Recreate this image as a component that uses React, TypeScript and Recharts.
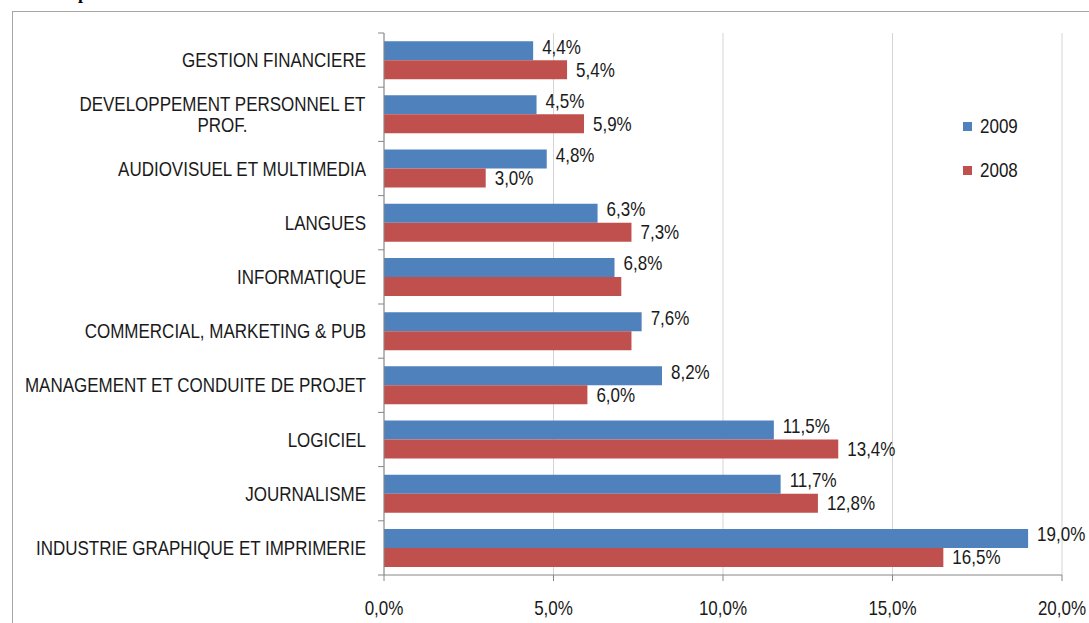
import React from "react";
import { BarChart, Bar, XAxis, YAxis, CartesianGrid, Legend, LabelList } from "recharts";

const categories = [
  "GESTION FINANCIERE",
  "DEVELOPPEMENT PERSONNEL ET\nPROF.",
  "AUDIOVISUEL ET MULTIMEDIA",
  "LANGUES",
  "INFORMATIQUE",
  "COMMERCIAL, MARKETING & PUB",
  "MANAGEMENT ET CONDUITE DE PROJET",
  "LOGICIEL",
  "JOURNALISME",
  "INDUSTRIE GRAPHIQUE ET IMPRIMERIE",
];
const values2009 = [4.4, 4.5, 4.8, 6.3, 6.8, 7.6, 8.2, 11.5, 11.7, 19.0];
const values2008 = [5.4, 5.9, 3.0, 7.3, 7.0, 7.3, 6.0, 13.4, 12.8, 16.5];
// these two 2008 bars have no value label in the original
const unlabeled2008 = ["INFORMATIQUE", "COMMERCIAL, MARKETING & PUB"];
const xTicks = [0, 5, 10, 15, 20];
const seriesNames = ["2009", "2008"];

const COLORS = ["#4f81bd", "#c0504d"];
// no narrow font installed, so squeeze Liberation Sans horizontally
const FONT = "'Liberation Sans', Arial, sans-serif";
const FONT_SIZE = 20;
const SQUEEZE = 0.85;

const W = 1089;
const H = 623;
const MARGIN = { top: 33, right: 27, left: 0, bottom: 8 };
const X_AXIS_H = 40;
const BAND = (H - MARGIN.top - MARGIN.bottom - X_AXIS_H) / categories.length;

const data = categories.map((name, i) => ({
  name,
  v2009: values2009[i],
  v2008: values2008[i],
}));

const pct = (v: number) => v.toFixed(1).replace(".", ",") + "%";

let ctx: CanvasRenderingContext2D | null = null;
const measure = (s: string) => {
  if (!ctx) ctx = document.createElement("canvas").getContext("2d");
  if (!ctx) return s.length * 9;
  ctx.font = `${FONT_SIZE}px ${FONT}`;
  return ctx.measureText(s).width * SQUEEZE;
};

const Narrow = ({ x, y, anchor = "start", children }: any) => (
  <text
    transform={`translate(${x},${y}) scale(${SQUEEZE},1)`}
    dy="0.35em"
    textAnchor={anchor}
    fontSize={FONT_SIZE}
    fontFamily={FONT}
    fill="#1a1a1a"
  >
    {children}
  </text>
);

const CategoryTick = (props: any) => {
  const { x, y, payload, index } = props;
  const lines: string[] = String(payload.value).split("\n");
  const right = x - 18;
  let texts;
  if (lines.length === 1) {
    texts = <Narrow x={right} y={y} anchor="end">{lines[0]}</Narrow>;
  } else {
    const widest = Math.max(...lines.map(measure));
    const cx = right - widest / 2;
    texts = lines.map((l, i) => (
      <Narrow key={i} x={cx} y={y + (i - (lines.length - 1) / 2) * 21} anchor="middle">{l}</Narrow>
    ));
  }
  return (
    <g>
      {texts}
      <line x1={x - 6} x2={x} y1={y - BAND / 2} y2={y - BAND / 2} stroke="#868686" />
      {index === categories.length - 1 && (
        <line x1={x - 6} x2={x} y1={y + BAND / 2} y2={y + BAND / 2} stroke="#868686" />
      )}
    </g>
  );
};

const ValueTick = (props: any) => {
  const { x, y, payload } = props;
  return <Narrow x={x} y={y + 7} anchor="middle">{pct(payload.value)}</Narrow>;
};

const makeLabel = (shift: number, skip: string[]) => (props: any) => {
  const { x, y, width, height, value, index } = props;
  if (skip.includes(categories[index])) return null;
  return <Narrow x={x + width + 9} y={y + height / 2 + shift}>{pct(value)}</Narrow>;
};

const LegendBox = () => (
  <div style={{ fontFamily: FONT, fontSize: FONT_SIZE, color: "#1a1a1a" }}>
    {seriesNames.map((s, i) => (
      <div key={s} style={{ display: "flex", alignItems: "center", height: 28, marginBottom: 16 }}>
        <span style={{ width: 9, height: 9, background: COLORS[i], marginRight: 8 }} />
        <span style={{ display: "inline-block", transform: `scaleX(${SQUEEZE})`, transformOrigin: "left center" }}>{s}</span>
      </div>
    ))}
  </div>
);

export default function App() {
  return (
    <div style={{ position: "fixed", left: 0, top: 0, width: W, height: H, overflow: "hidden", background: "#fff" }}>
      <div style={{ position: "absolute", left: 78, top: -17, fontFamily: "'Liberation Serif', serif", fontWeight: "bold", fontSize: 18 }}>p</div>
      <div style={{ position: "absolute", left: 12, top: 11, width: 1200, height: 700, border: "1px solid #a6a6a6" }} />
      <div style={{ position: "absolute", left: 0, top: 0 }}>
        <BarChart width={W} height={H} data={data} layout="vertical" margin={MARGIN} barCategoryGap="15%" barGap={0}>
          <CartesianGrid horizontal={false} stroke="#d4d4d4" />
          <XAxis
            type="number"
            domain={[0, 20]}
            ticks={xTicks}
            tickFormatter={pct}
            height={X_AXIS_H}
            stroke="#868686"
            tickSize={6}
            tickMargin={20}
            tick={<ValueTick />}
          />
          <YAxis
            type="category"
            dataKey="name"
            width={384}
            stroke="#868686"
            tickLine={false}
            tickSize={0}
            tickMargin={0}
            interval={0}
            tick={<CategoryTick />}
          />
          <Legend
            layout="vertical"
            align="center"
            verticalAlign="middle"
            wrapperStyle={{ left: 963, top: 112, width: 90 }}
            content={<LegendBox />}
          />
          <Bar dataKey="v2009" name="2009" fill={COLORS[0]} isAnimationActive={false}>
            <LabelList dataKey="v2009" content={makeLabel(-4, [])} />
          </Bar>
          <Bar dataKey="v2008" name="2008" fill={COLORS[1]} isAnimationActive={false}>
            <LabelList dataKey="v2008" content={makeLabel(0, unlabeled2008)} />
          </Bar>
        </BarChart>
      </div>
    </div>
  );
}
